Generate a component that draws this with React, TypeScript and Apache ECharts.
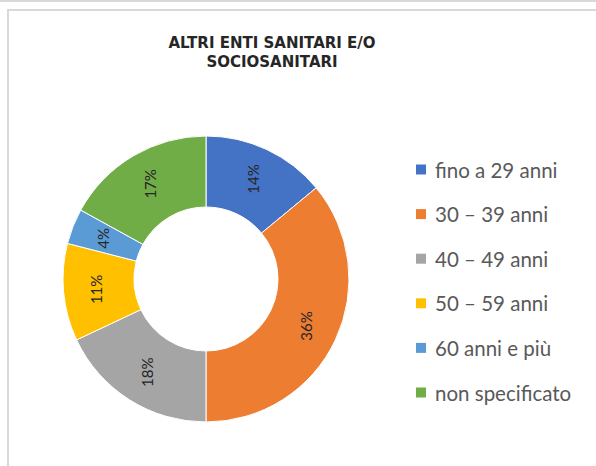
import React, { useEffect, useRef } from "react";
import * as echarts from "echarts";

const titleLines = ["ALTRI ENTI SANITARI E/O", "SOCIOSANITARI"];
const categories = [
  "fino a 29 anni",
  "30 – 39 anni",
  "40 – 49 anni",
  "50 – 59 anni",
  "60 anni e più",
  "non specificato",
];
const percentValues = [14, 36, 18, 11, 4, 17];
const sliceColors = ["#4472C4", "#ED7D31", "#A5A5A5", "#FFC000", "#5B9BD5", "#70AD47"];

export default function App() {
  const ref = useRef<HTMLDivElement>(null);
  useEffect(() => {
    if (!ref.current) return;
    const chart = echarts.init(ref.current, undefined, { renderer: "svg" });
    chart.setOption({
      animation: false,
      backgroundColor: "#ffffff",
      title: {
        text: titleLines.join("\n"),
        left: 267,
        top: 28,
        textAlign: "center",
        textStyle: {
          fontFamily: "DejaVu Sans",
          fontWeight: "bold",
          fontSize: 15,
          lineHeight: 19,
          color: "#262626",
        },
      },
      graphic: [
        {
          type: "line",
          shape: { x1: 0, y1: 1, x2: 596, y2: 1 },
          style: { stroke: "#d9d9d9", lineWidth: 2 },
          silent: true,
        },
        {
          type: "rect",
          shape: { x: 8, y: 10, width: 620, height: 500 },
          style: { fill: "none", stroke: "#d9d9d9", lineWidth: 2 },
          silent: true,
        },
      ],
      legend: {
        orient: "vertical",
        left: 411,
        top: 154,
        itemWidth: 10,
        itemHeight: 10,
        itemGap: 23.6,
        icon: "rect",
        itemStyle: { borderWidth: 0 },
        textStyle: {
          fontFamily: "Lato",
          fontSize: 20.5,
          lineHeight: 20,
          color: "#595959",
          padding: [0, 0, 0, 4],
        },
        data: categories,
      },
      series: [
        {
          type: "pie",
          center: [206, 279],
          radius: [72, 143],
          startAngle: 90,
          clockwise: true,
          avoidLabelOverlap: false,
          itemStyle: { borderColor: "#ffffff", borderWidth: 1 },
          label: {
            show: true,
            position: "inside",
            rotate: 90,
            formatter: "{c}%",
            fontFamily: "Lato",
            fontSize: 15,
            color: "#262626",
          },
          labelLine: { show: false },
          emphasis: { disabled: true },
          data: categories.map((name, i) => ({
            name,
            value: percentValues[i],
            itemStyle: { color: sliceColors[i] },
          })),
        },
      ],
    });
    return () => chart.dispose();
  }, []);
  return (
    <div
      ref={ref}
      style={{ position: "fixed", left: 0, top: 0, width: 596, height: 466 }}
    />
  );
}
